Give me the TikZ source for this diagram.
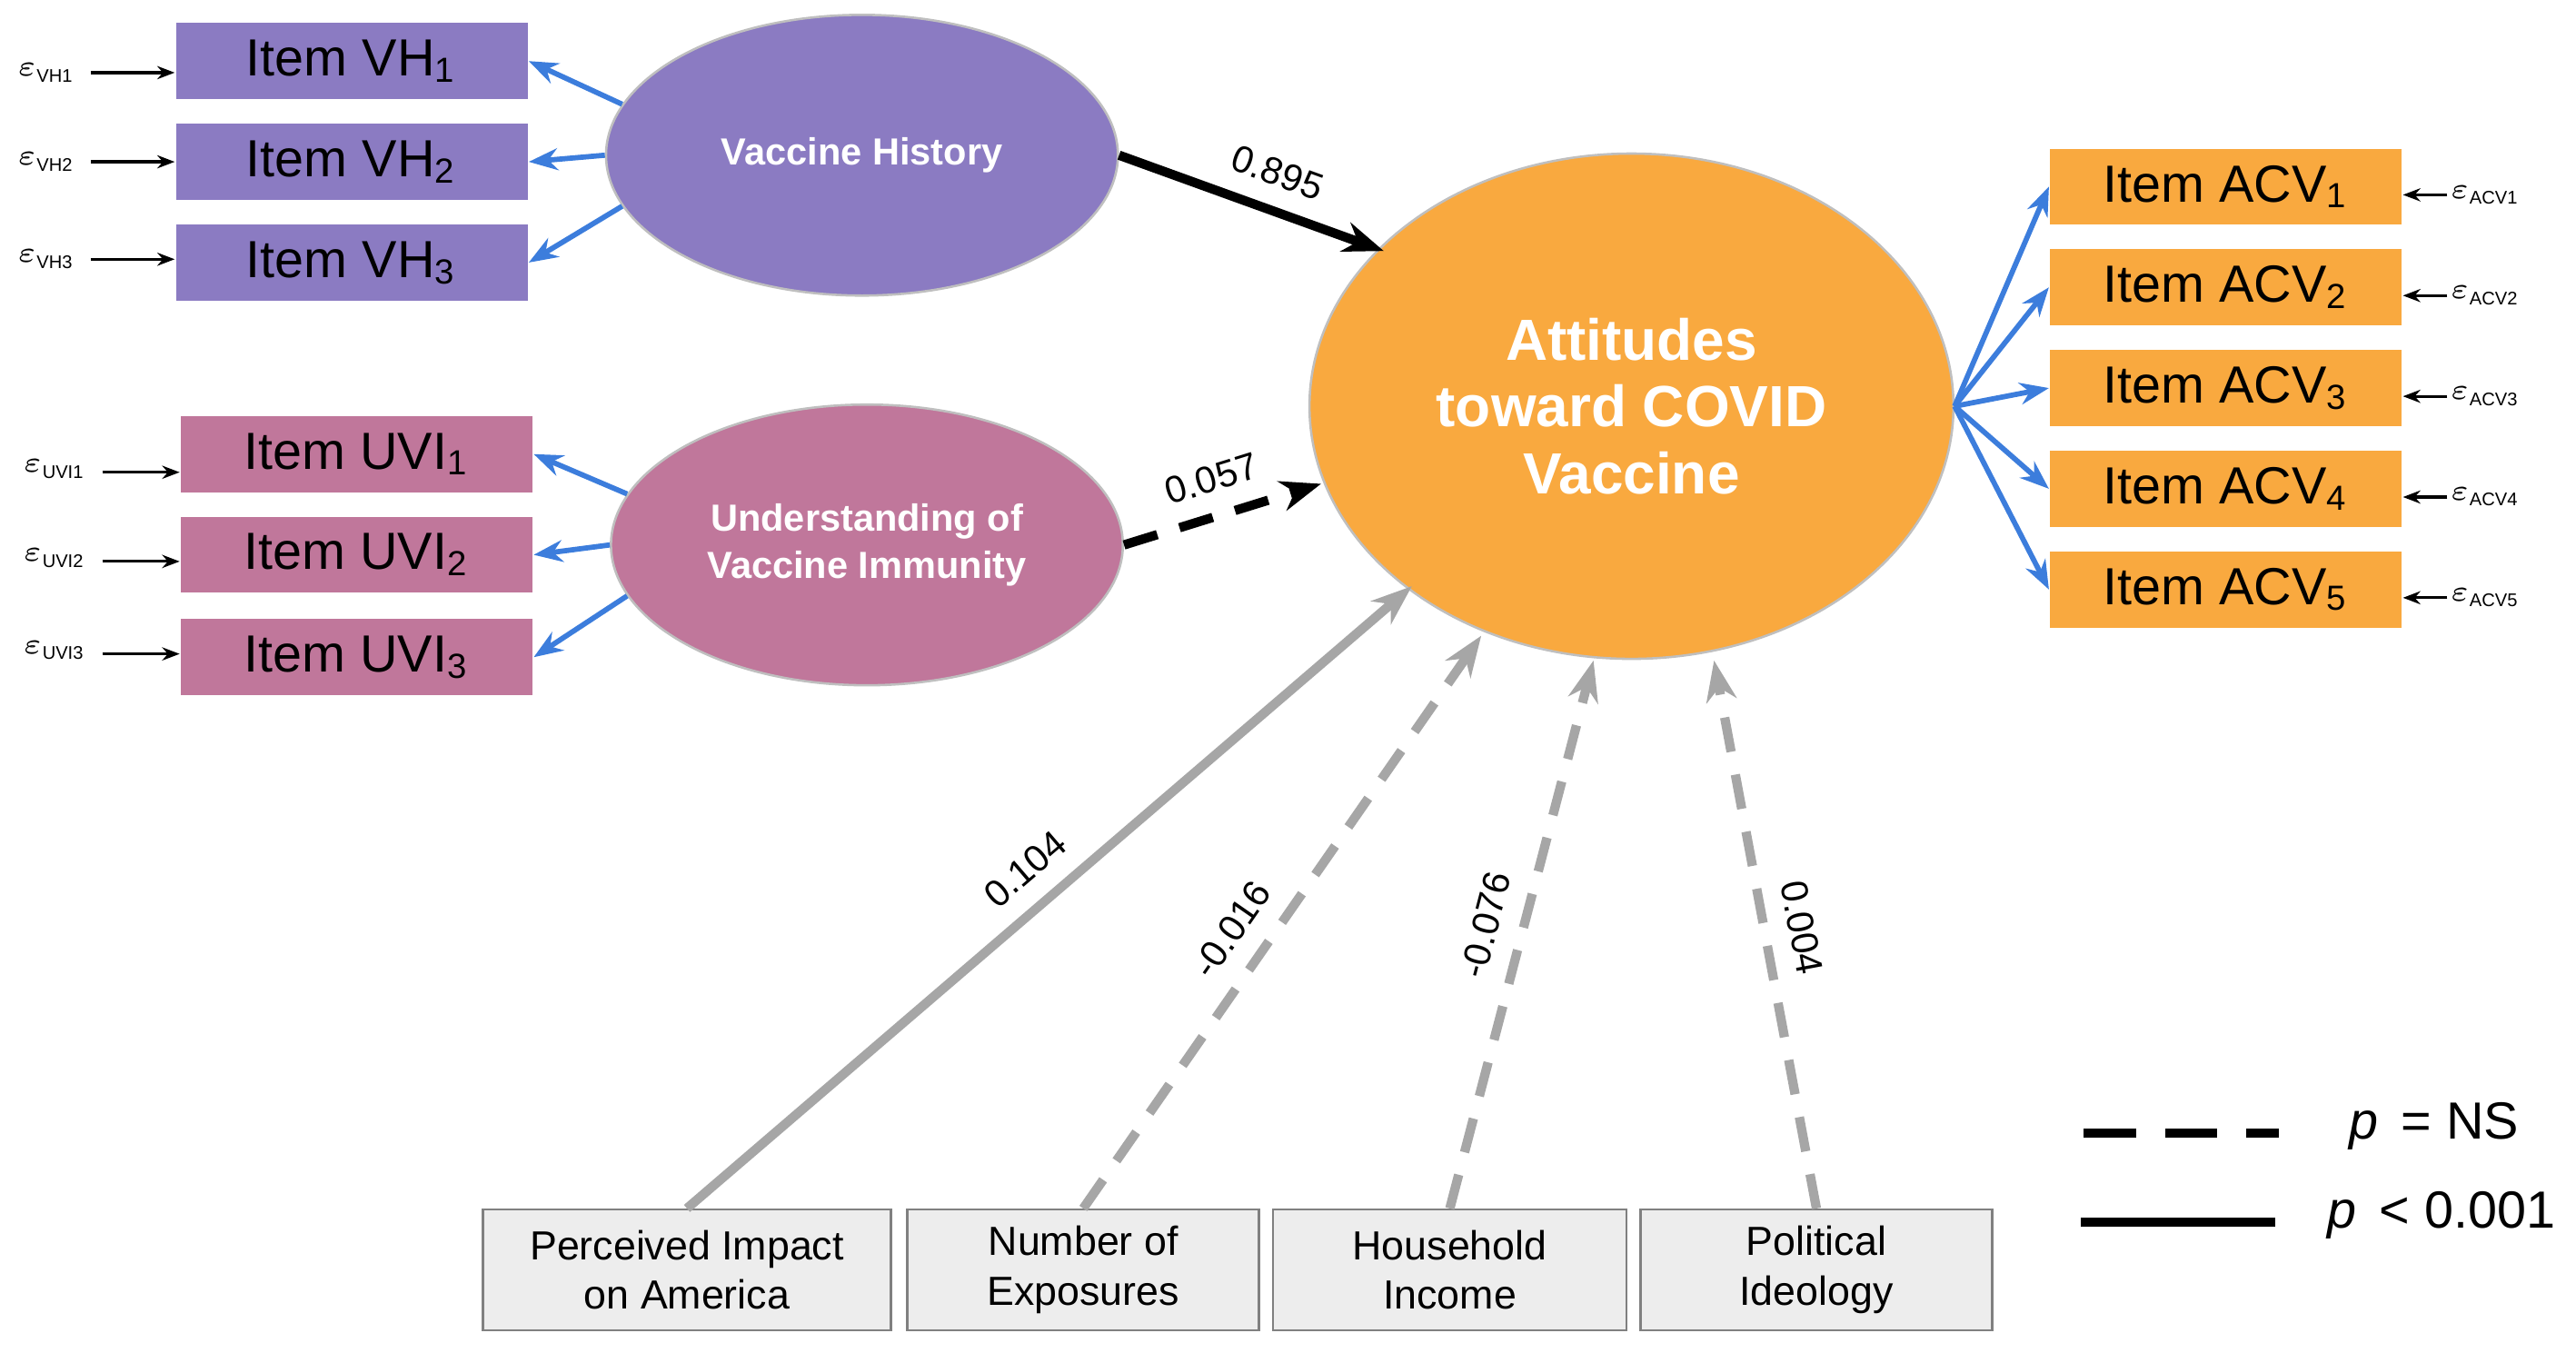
\documentclass[tikz,border=0pt]{standalone}
\usepackage{fontspec}
\setmainfont{Liberation Sans}
\usetikzlibrary{arrows.meta,shapes.geometric}
\definecolor{vhc}{HTML}{8B7BC2}
\definecolor{uvc}{HTML}{C0779B}
\definecolor{orc}{HTML}{F9A93F}
\definecolor{blu}{HTML}{3C7DDC}
\definecolor{gln}{HTML}{A6A6A6}
\begin{document}
\begin{tikzpicture}[x=0.01cm,y=-0.01cm,
 item/.style={minimum width=213*0.01cm,minimum height=46*0.01cm,inner sep=0,font=\fontsize{9}{10}\selectfont},
 vh/.style={item,fill=vhc},uv/.style={item,fill=uvc},ac/.style={item,fill=orc},
 bb/.style={draw=gray,fill=gray!14,minimum height=73*0.01cm,inner sep=0,align=center,font=\fontsize{7}{8.5}\selectfont},
 eps/.style={font=\fontsize{4.5}{5}\selectfont,inner sep=0},
 ba/.style={blu,line width=0.9pt,-{Stealth[length=5pt]}},
 ka/.style={black,line width=0.5pt,-{Stealth[length=3pt]}},
 ga/.style={gln,line width=1.6pt,-{Stealth[length=7pt]}},
 dsh/.style={dash pattern=on 6pt off 4pt},
 num/.style={text=black,font=\fontsize{6.5}{7}\selectfont}]
\useasboundingbox (0,0) rectangle (1560,825);
% VH
\node[vh] (vh1) at (213,37) {Item VH\textsubscript{1}};
\node[vh] (vh2) at (213,98) {Item VH\textsubscript{2}};
\node[vh] (vh3) at (213,159) {Item VH\textsubscript{3}};
\node[fill=vhc,ellipse,minimum width=310*0.01cm,minimum height=170*0.01cm,draw=gray!50,font=\bfseries\fontsize{6.5}{7}\selectfont,text=white] (VH) at (522,94) {Vaccine History};
% UVI
\node[uv] (uv1) at (216,275) {Item UVI\textsubscript{1}};
\node[uv] (uv2) at (216,336) {Item UVI\textsubscript{2}};
\node[uv] (uv3) at (216,398) {Item UVI\textsubscript{3}};
\node[fill=uvc,ellipse,minimum width=310*0.01cm,minimum height=170*0.01cm,draw=gray!50,align=center,font=\bfseries\fontsize{6.5}{8}\selectfont,text=white] (UV) at (525,330) {Understanding of\\Vaccine Immunity};
% ACV
\node[fill=orc,ellipse,minimum width=390*0.01cm,minimum height=306*0.01cm,draw=gray!50,align=center,font=\bfseries\fontsize{10}{11.5}\selectfont,text=white] (A) at (988,246) {Attitudes\\toward COVID\\Vaccine};
\foreach \i/\y in {1/113,2/174,3/235,4/296,5/357}{
 \node[ac] (ac\i) at (1348,\y) {Item ACV\textsubscript{\i}};
 \node[eps] (ea\i) at (1505,\y+5) {$\varepsilon$\textsubscript{ACV\i}};
 \coordinate (ca\i) at (1482,\y+5);
 \draw[ka] (ca\i) -- (ac\i.east|-ca\i);
 \draw[ba] (A.east) -- (ac\i.west);
}
\foreach \i/\y in {1/44,2/98,3/157}{
 \node[eps] (ev\i) at (28,\y) {$\varepsilon$\textsubscript{VH\i}};
 \coordinate (cv\i) at (55,\y);
 \draw[ka] (cv\i) -- (vh\i.west|-cv\i);
}
\foreach \i/\y in {1/284,2/338,3/394}{
 \node[eps] (eu\i) at (33,\y) {$\varepsilon$\textsubscript{UVI\i}};
 \coordinate (cu\i) at (62,\y+2);
 \draw[ka] (cu\i) -- (uv\i.west|-cu\i);
}
\draw[ba] (VH.168) -- (vh1.east);
\draw[ba] (VH.180) -- (vh2.east);
\draw[ba] (VH.192) -- (vh3.east);
\draw[ba] (UV.168) -- (uv1.east);
\draw[ba] (UV.180) -- (uv2.east);
\draw[ba] (UV.192) -- (uv3.east);
% paths
\coordinate (t1) at (838,152);
\draw[black,line width=1.6pt,-{Stealth[length=7pt]}] (VH.east) -- node[num,above,sloped,pos=0.55]{0.895} (t1);
\coordinate (t2) at (800,293);
\draw[black,line width=1.6pt,dsh,-{Stealth[length=7pt]}] (UV.east) -- node[num,above,sloped,pos=0.5]{0.057} (t2);
% bottom
\node[bb,minimum width=247*0.01cm] (b1) at (416,769) {Perceived Impact\\on America};
\node[bb,minimum width=213*0.01cm] (b2) at (656,769) {Number of\\Exposures};
\node[bb,minimum width=214*0.01cm] (b3) at (878,769) {Household\\Income};
\node[bb,minimum width=213*0.01cm] (b4) at (1100,769) {Political\\Ideology};
\coordinate (p1) at (855,355);
\coordinate (p2) at (897,385);
\coordinate (p3) at (965,400);
\coordinate (p4) at (1038,400);
\draw[ga] (b1.north) -- node[num,above,sloped,pos=0.5]{0.104} (p1);
\draw[ga,dsh] (b2.north) -- node[num,above,sloped,pos=0.45]{-0.016} (p2);
\draw[ga,dsh] (b3.north) -- node[num,above,sloped,pos=0.5]{-0.076} (p3);
\draw[ga,dsh] (b4.north) -- node[num,above,sloped,pos=0.5]{0.004} (p4);
% legend
\coordinate (l1) at (1262,686); \coordinate (l2) at (1380,686);
\coordinate (l3) at (1260,740); \coordinate (l4) at (1378,740);
\draw[black,line width=1.6pt,dash pattern=on 9pt off 5pt] (l1) -- (l2);
\draw[black,line width=1.6pt] (l3) -- (l4);
\node[font=\fontsize{9}{10}\selectfont,anchor=west] (n1) at (1410,682) {\textit{p} \,= NS};
\node[font=\fontsize{9}{10}\selectfont,anchor=west] (n2) at (1397,736) {\textit{p} \,< 0.001};
\end{tikzpicture}
\end{document}
